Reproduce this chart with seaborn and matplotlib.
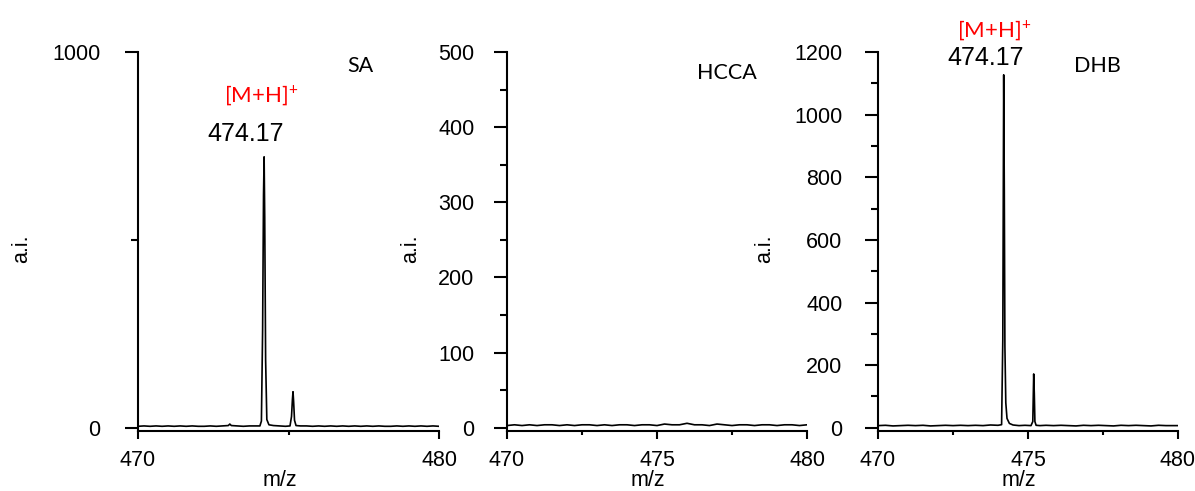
import matplotlib
matplotlib.use("Agg")
import matplotlib.pyplot as plt
import seaborn as sns
import pandas as pd
from matplotlib.ticker import FixedLocator

# ---------------- data ----------------
sa_mz = [470.0, 470.2, 470.4, 470.6, 470.8, 471.0, 471.2, 471.4, 471.6, 471.8,
         472.0, 472.2, 472.4, 472.6, 472.8, 473.0, 473.05, 473.1, 473.3, 473.5,
         473.7, 473.9, 474.05, 474.1, 474.14, 474.17, 474.19, 474.21, 474.24, 474.28,
         474.35, 474.5, 474.7, 474.9, 475.05, 475.1, 475.13, 475.15, 475.17, 475.2,
         475.25, 475.4, 475.6, 475.8, 476.0, 476.2, 476.4, 476.6, 476.8, 477.0,
         477.2, 477.4, 477.6, 477.8, 478.0, 478.2, 478.4, 478.6, 478.8, 479.0,
         479.2, 479.4, 479.6, 479.8, 480.0]
sa_int = [4, 5, 4, 5, 4, 5, 4, 5, 4, 5,
          4, 4, 5, 4, 5, 6, 10, 6, 5, 4,
          5, 5, 5, 18, 260, 620, 721, 560, 180, 22,
          8, 6, 5, 4, 5, 30, 75, 96, 70, 20,
          6, 5, 5, 4, 5, 4, 5, 4, 5, 4,
          5, 4, 5, 4, 5, 4, 4, 5, 4, 5,
          4, 5, 4, 5, 4]

hcca_mz = [470.0, 470.25, 470.5, 470.75, 471.0, 471.25, 471.5, 471.75, 472.0, 472.25,
           472.5, 472.75, 473.0, 473.25, 473.5, 473.75, 474.0, 474.25, 474.5, 474.75,
           475.0, 475.25, 475.5, 475.75, 476.0, 476.25, 476.5, 476.75, 477.0, 477.25,
           477.5, 477.75, 478.0, 478.25, 478.5, 478.75, 479.0, 479.25, 479.5, 479.75,
           480.0]
hcca_int = [3, 4, 3, 4, 3, 4, 4, 3, 4, 3,
            4, 4, 3, 4, 3, 4, 4, 3, 4, 4,
            3, 5, 4, 4, 6, 4, 4, 3, 5, 4,
            3, 4, 4, 3, 4, 4, 3, 4, 4, 3,
            4]

dhb_mz = [470.0, 470.25, 470.5, 470.75, 471.0, 471.25, 471.5, 471.75, 472.0, 472.25,
          472.5, 472.75, 473.0, 473.25, 473.5, 473.75, 474.0, 474.12, 474.16, 474.19,
          474.21, 474.23, 474.26, 474.3, 474.38, 474.5, 474.7, 474.9, 475.1, 475.16,
          475.19, 475.21, 475.23, 475.27, 475.4, 475.6, 475.85, 476.1, 476.35, 476.6,
          476.85, 477.1, 477.35, 477.6, 477.85, 478.1, 478.35, 478.6, 478.85, 479.1,
          479.35, 479.6, 479.85, 480.0]
dhb_int = [7, 8, 6, 7, 8, 7, 8, 6, 7, 8,
           7, 8, 7, 8, 7, 9, 8, 10, 280, 1127,
           760, 260, 80, 30, 14, 9, 7, 8, 7, 20,
           172, 110, 20, 8, 7, 8, 7, 8, 7, 6,
           8, 7, 8, 7, 6, 8, 7, 8, 7, 6,
           8, 7, 7, 7]

panel_names = ["SA", "HCCA", "DHB"]
peak_label = "474.17"
ion_label = r"[M+H]$^{+}$"
y_max = [1000, 500, 1200]
y_major = [[0, 1000], [0, 100, 200, 300, 400, 500], [0, 200, 400, 600, 800, 1000, 1200]]
y_minor = [[500], [50, 150, 250, 350, 450], [100, 300, 500, 700, 900, 1100]]
x_major = [[470, 480], [470, 475, 480], [470, 475, 480]]
x_minor = [[475], [472.5, 477.5], [472.5, 477.5]]

# ---------------- style ----------------
sns.set_theme(style="ticks")
plt.rcParams["font.family"] = ["Liberation Sans", "DejaVu Sans"]
plt.rcParams["mathtext.fontset"] = "custom"
plt.rcParams["mathtext.rm"] = "Lato"
plt.rcParams["mathtext.it"] = "Lato"
plt.rcParams["mathtext.bf"] = "Lato"

fig = plt.figure(figsize=(11.95, 4.91), dpi=100)

W, H = 1195.0, 491.0
lefts = [138, 507, 878]
widths = [301, 300, 300]
top_px, bot_px = 52, 431
ypads = [17.5, 14, 16]

spectra = [(sa_mz, sa_int), (hcca_mz, hcca_int), (dhb_mz, dhb_int)]
axes = []
for i in range(3):
    ax = fig.add_axes([lefts[i] / W, 1 - bot_px / H, widths[i] / W, (bot_px - top_px) / H])
    axes.append(ax)
    df = pd.DataFrame({"mz": spectra[i][0], "intensity": spectra[i][1]})
    sns.lineplot(data=df, x="mz", y="intensity", ax=ax, color="black", linewidth=1.2)
    ym = y_max[i]
    ax.set_xlim(470, 480)
    ax.set_ylim(-ym * 0.0085, ym)
    ax.xaxis.set_major_locator(FixedLocator(x_major[i]))
    ax.xaxis.set_minor_locator(FixedLocator(x_minor[i]))
    ax.yaxis.set_major_locator(FixedLocator(y_major[i]))
    ax.yaxis.set_minor_locator(FixedLocator(y_minor[i]))
    ax.set_xticklabels([str(v) for v in x_major[i]])
    ax.set_yticklabels([str(v) for v in y_major[i]])
    ax.tick_params(axis="y", which="major", length=9.5, width=1.5, pad=ypads[i], labelsize=15.5, color="black", labelcolor="black")
    ax.tick_params(axis="y", which="minor", length=5, width=1.5, color="black")
    ax.tick_params(axis="x", which="major", length=5.5, width=1.5, pad=8, labelsize=15.5, color="black", labelcolor="black")
    ax.tick_params(axis="x", which="minor", length=3, width=1.5, color="black")
    for s in ["top", "right"]:
        ax.spines[s].set_visible(False)
    for s in ["left", "bottom"]:
        ax.spines[s].set_linewidth(1.5)
        ax.spines[s].set_color("black")
    ax.set_facecolor("none")
    ax.set_xlabel("m/z", fontsize=15.5, color="black")
    ax.set_ylabel("a.i.", fontsize=15.5, color="black")

# label positions (axes coordinates)
axes[0].yaxis.set_label_coords(-0.352, 0.48)
axes[1].yaxis.set_label_coords(-0.287, 0.48)
axes[2].yaxis.set_label_coords(-0.342, 0.48)
for ax in axes:
    ax.xaxis.set_label_coords(0.47, -0.104)

def fx(ax, px):
    b = ax.get_position()
    return (px / W - b.x0) / b.width

def fy(ax, py):
    b = ax.get_position()
    return ((1 - py / H) - b.y0) / b.height

name_pos = [(360, 66), (727, 73), (1097, 66)]
for i, ax in enumerate(axes):
    ax.text(fx(ax, name_pos[i][0]), fy(ax, name_pos[i][1]), panel_names[i],
            transform=ax.transAxes, ha="center", va="center", fontsize=15.5,
            family=["Lato", "DejaVu Sans"], color="black")

# peak annotations
ann = [(0, 261, 95, 246, 134), (2, 994, 30, 986, 58)]
for i, ix, iy, px, py in ann:
    ax = axes[i]
    ax.text(fx(ax, ix), fy(ax, iy), ion_label, transform=ax.transAxes, ha="center", va="center",
            fontsize=16, family=["Lato", "DejaVu Sans"], color="#ff0000", clip_on=False)
    ax.text(fx(ax, px), fy(ax, py), peak_label, transform=ax.transAxes, ha="center", va="center",
            fontsize=18, color="black", clip_on=False)

fig.savefig("out.png", dpi=100, facecolor="white")
